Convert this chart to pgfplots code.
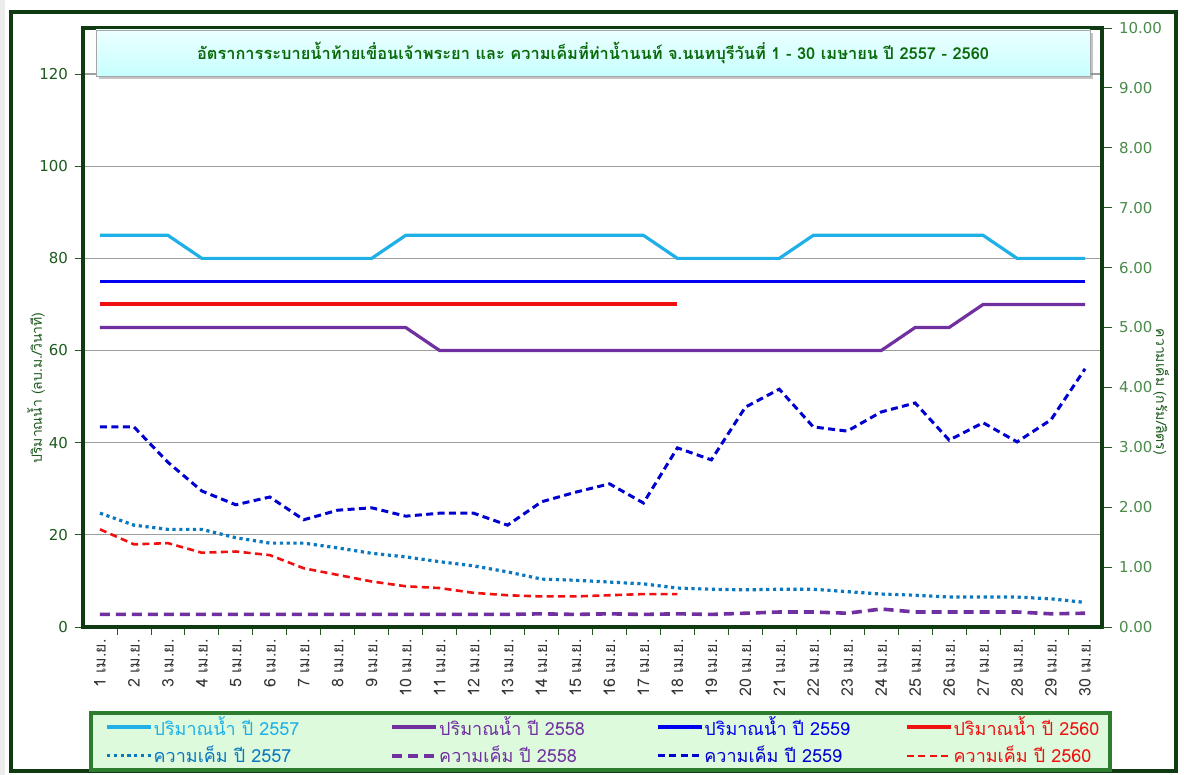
\documentclass[border=0pt]{standalone}
\usepackage{fontspec}
\usepackage{pgfplots}
\usepackage{pgfplotstable}
\pgfplotsset{compat=1.18}
\usetikzlibrary{shadows}
\setmainfont{DejaVu Sans}
\newfontfamily\thai[Script=Thai]{Loma}

\definecolor{frame}{HTML}{0F3A12}
\definecolor{ticklft}{HTML}{1E5A1E}
\definecolor{tickrgt}{HTML}{4A8A4A}
\definecolor{titlec}{HTML}{0A6A0A}
\definecolor{c57}{HTML}{1EB0E6}
\definecolor{c58}{HTML}{7030A0}
\definecolor{c59}{HTML}{0000F0}
\definecolor{c60}{HTML}{F01010}
\definecolor{d57}{HTML}{0A78C0}
\definecolor{d59}{HTML}{0000D0}
\definecolor{legfill}{HTML}{DDFADD}
\definecolor{legline}{HTML}{2E7D2E}

% flow (m3/s), left axis
\pgfplotstableread{
day f57 f58 f59 f60
1  85 65 75 70
2  85 65 75 70
3  85 65 75 70
4  80 65 75 70
5  80 65 75 70
6  80 65 75 70
7  80 65 75 70
8  80 65 75 70
9  80 65 75 70
10 85 65 75 70
11 85 60 75 70
12 85 60 75 70
13 85 60 75 70
14 85 60 75 70
15 85 60 75 70
16 85 60 75 70
17 85 60 75 70
18 80 60 75 70
19 80 60 75 nan
20 80 60 75 nan
21 80 60 75 nan
22 85 60 75 nan
23 85 60 75 nan
24 85 60 75 nan
25 85 65 75 nan
26 85 65 75 nan
27 85 70 75 nan
28 80 70 75 nan
29 80 70 75 nan
30 80 70 75 nan
}\flow

% salinity (g/l), right axis
\pgfplotstableread{
day s57 s58 s59 s60
1  1.90 0.21 3.34 1.63
2  1.70 0.21 3.34 1.38
3  1.63 0.21 2.75 1.40
4  1.63 0.21 2.27 1.24
5  1.49 0.21 2.04 1.26
6  1.40 0.21 2.17 1.20
7  1.40 0.21 1.79 0.98
8  1.32 0.21 1.95 0.87
9  1.23 0.21 1.99 0.76
10 1.17 0.21 1.85 0.68
11 1.09 0.21 1.90 0.65
12 1.02 0.21 1.90 0.57
13 0.92 0.21 1.70 0.53
14 0.80 0.22 2.09 0.51
15 0.78 0.21 2.25 0.51
16 0.75 0.22 2.39 0.53
17 0.72 0.21 2.07 0.55
18 0.65 0.22 2.99 0.55
19 0.63 0.21 2.79 nan
20 0.62 0.23 3.67 nan
21 0.63 0.25 3.97 nan
22 0.63 0.25 3.34 nan
23 0.59 0.23 3.27 nan
24 0.55 0.30 3.59 nan
25 0.53 0.25 3.74 nan
26 0.50 0.25 3.12 nan
27 0.50 0.25 3.41 nan
28 0.50 0.25 3.09 nan
29 0.47 0.22 3.46 nan
30 0.41 0.23 4.31 nan
}\salt

\begin{document}
\begin{tikzpicture}
% pixel grid of the reference: (X,Y) in px, y downwards
\begin{scope}[x=0.5pt,y=-0.5pt,shift={(-41.5pt,313.5pt)}]
 \fill[white] (0,0) rectangle (1184,775);
 \fill[black!8] (0,0) rectangle (5,775);
 \draw[frame,line width=2pt] (11,12) rectangle (1176,771);
 \fill[legfill] (91,713) rectangle (1110,770);
\end{scope}

\begin{axis}[name=main,at={(0,0)},anchor=south west,scale only axis,
 width=509.5pt,height=299.5pt,
 xmin=0.5,xmax=30.5,ymin=0,ymax=130,
 xtick={1,...,30},
 xticklabels={1 เม.ย.,2 เม.ย.,3 เม.ย.,4 เม.ย.,5 เม.ย.,6 เม.ย.,7 เม.ย.,8 เม.ย.,9 เม.ย.,10 เม.ย.,
  11 เม.ย.,12 เม.ย.,13 เม.ย.,14 เม.ย.,15 เม.ย.,16 เม.ย.,17 เม.ย.,18 เม.ย.,19 เม.ย.,20 เม.ย.,
  21 เม.ย.,22 เม.ย.,23 เม.ย.,24 เม.ย.,25 เม.ย.,26 เม.ย.,27 เม.ย.,28 เม.ย.,29 เม.ย.,30 เม.ย.},
 minor xtick={1.5,2.5,...,29.5},
 major x tick style={draw=none},
 ytick={0,20,...,120},
 tick pos=left,tick align=outside,
 major tick length=4pt,minor tick length=4pt,
 tick style={ticklft,thin},
 xticklabel style={font=\thai\fontsize{8}{8}\selectfont,rotate=90,anchor=east,black!80,inner sep=2pt},
 yticklabel style={font=\fontsize{7.5}{8}\selectfont,ticklft},
 /pgf/number format/assume math mode=true,
 ymajorgrids,grid style={black!38,line width=0.6pt},
 axis line style={frame,line width=1.6pt},
 clip=false]
\addplot[c57,line width=1.6pt] table[x=day,y=f57]{\flow};
\addplot[c58,line width=1.6pt] table[x=day,y=f58]{\flow};
\addplot[c59,line width=1.6pt] table[x=day,y=f59]{\flow};
\addplot[c60,line width=2pt] table[x=day,y=f60]{\flow};
\end{axis}

\begin{axis}[at={(0,0)},anchor=south west,scale only axis,
 width=509.5pt,height=299.5pt,
 xmin=0.5,xmax=30.5,ymin=0,ymax=10,
 axis x line=none,axis y line*=right,
 ytick={0,1,...,10},
 tick align=outside,major tick length=5pt,
 tick style={ticklft,thin},
 yticklabel style={font=\fontsize{7.5}{8}\selectfont,tickrgt},
 /pgf/number format/.cd,fixed,fixed zerofill,precision=2,assume math mode=true,
 /pgfplots/.cd,
 axis line style={frame,line width=1.6pt},
 legend image code/.code={\draw[#1] (0pt,0pt) -- (22pt,0pt);},
 legend columns=4,legend cell align=left,
 legend style={at={(0.0216,-0.19)},anchor=west,draw=none,fill=none,
  font=\thai\fontsize{9}{9}\selectfont,row sep=2pt,inner xsep=0pt,
  /tikz/every even column/.append style={column sep=0pt},
  nodes={inner xsep=0.5pt,inner ysep=1pt}},
 clip=false]
\addlegendimage{c57,line width=1.6pt}
\addlegendentry{\makebox[118pt][l]{\textcolor{c57}{ปริมาณน้ำ ปี 2557}}}
\addlegendimage{c58,line width=1.6pt}
\addlegendentry{\makebox[108pt][l]{\textcolor{c58}{ปริมาณน้ำ ปี 2558}}}
\addlegendimage{c59,line width=1.6pt}
\addlegendentry{\makebox[100pt][l]{\textcolor{c59}{ปริมาณน้ำ ปี 2559}}}
\addlegendimage{c60,line width=1.6pt}
\addlegendentry{\makebox[80pt][l]{\textcolor{c60}{ปริมาณน้ำ ปี 2560}}}
\addplot[d57,line width=1.6pt,dash pattern=on 1.6pt off 1.8pt] table[x=day,y=s57]{\salt};
\addlegendentry{\makebox[118pt][l]{\textcolor{d57}{ความเค็ม ปี 2557}}}
\addplot[c58,line width=1.8pt,dash pattern=on 5pt off 3pt] table[x=day,y=s58]{\salt};
\addlegendentry{\makebox[108pt][l]{\textcolor{c58}{ความเค็ม ปี 2558}}}
\addplot[d59,line width=1.5pt,dash pattern=on 3.5pt off 2.2pt] table[x=day,y=s59]{\salt};
\addlegendentry{\makebox[100pt][l]{\textcolor{d59}{ความเค็ม ปี 2559}}}
\addplot[c60,line width=1.3pt,dash pattern=on 3.5pt off 2.2pt] table[x=day,y=s60]{\salt};
\addlegendentry{\makebox[80pt][l]{\textcolor{c60}{ความเค็ม ปี 2560}}}
\end{axis}

\begin{scope}[x=0.5pt,y=-0.5pt,shift={(-41.5pt,313.5pt)}]
 % legend frame
 \draw[legline,line width=1.8pt] (91,713) rectangle (1110,770);
 % title box
 \node[draw=black!35,top color=white!70!cyan!25,bottom color=cyan!22!white,
  drop shadow={shadow xshift=1.5pt,shadow yshift=-1.5pt,opacity=0.45},
  minimum width=497pt,minimum height=23pt,inner sep=0pt,
  font=\thai\bfseries\fontsize{8.2}{10}\selectfont,text=titlec]
  at (593,53) {อัตราการระบายน้ำท้ายเขื่อนเจ้าพระยา และ ความเค็มที่ท่าน้ำนนท์ จ.นนทบุรีวันที่ 1 - 30 เมษายน ปี 2557 - 2560};
 % axis titles
 \node[rotate=90,font=\thai\fontsize{7}{8}\selectfont,ticklft] at (36,388) {ปริมาณน้ำ (ลบ.ม./วินาที)};
 \node[rotate=-90,font=\thai\fontsize{7}{8}\selectfont,ticklft] at (1161,392) {ความเค็ม (กรัม/ลิตร)};
\end{scope}
\end{tikzpicture}
\end{document}
